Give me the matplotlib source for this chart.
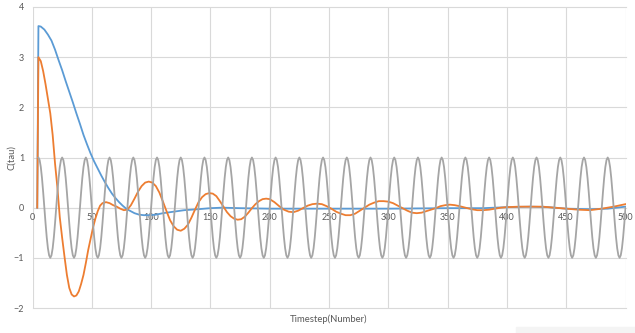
import numpy as np
import matplotlib
matplotlib.use("Agg")
import matplotlib.pyplot as plt
from matplotlib.patches import Rectangle

# ---- data ----
blue_x = [4, 5, 7, 10, 13, 16, 19, 22, 25, 28, 31, 34, 37, 40, 43, 46, 49, 52, 55, 58,
          61, 64, 67, 70, 73, 76, 79, 82, 86, 90, 94, 98, 104, 110, 116, 122, 128, 134,
          140, 150, 160, 175, 200, 250, 300, 350, 380, 400, 420, 435, 450, 470, 485, 500]
blue_y = [0.0, 3.62, 3.61, 3.55, 3.45, 3.33, 3.15, 2.94, 2.74, 2.52, 2.31, 2.10, 1.88, 1.67,
          1.45, 1.26, 1.08, 0.92, 0.78, 0.64, 0.51, 0.39, 0.28, 0.19, 0.11, 0.04, -0.02,
          -0.06, -0.11, -0.14, -0.15, -0.15, -0.14, -0.11, -0.09, -0.07, -0.05, -0.04,
          -0.03, -0.01, 0.0, -0.01, -0.02, -0.02, -0.02, -0.01, -0.01, 0.01, 0.02, 0.01,
          -0.02, -0.03, -0.02, 0.02]

orange_x = [4, 5, 7, 9, 11, 13, 15, 17, 19, 21, 23, 25, 27, 29, 31, 33, 35, 37, 39, 41,
            43, 45, 47, 49, 51, 53, 55, 57, 59, 62, 65, 68, 71, 74, 77, 80, 83, 86, 89,
            92, 95, 98, 101, 104, 107, 110, 113, 116, 119, 122, 125, 128, 131, 134, 137,
            140, 143, 146, 149, 152, 155, 158, 161, 164, 167, 170, 173, 176, 179, 182,
            185, 188, 191, 194, 197, 200, 204, 208, 212, 216, 220, 224, 228, 232, 236,
            240, 244, 248, 252, 256, 260, 264, 268, 272, 276, 280, 284, 288, 292, 296,
            300, 304, 308, 312, 316, 320, 324, 328, 332, 336, 340, 344, 348, 352, 356,
            360, 365, 370, 375, 380, 385, 390, 395, 400, 410, 420, 430, 440, 450, 460,
            470, 480, 490, 500]
orange_y = [0.0, 3.0, 2.92, 2.72, 2.46, 2.17, 1.88, 1.45, 0.88, 0.40, -0.19, -0.60, -0.98,
            -1.34, -1.60, -1.73, -1.77, -1.75, -1.67, -1.52, -1.34, -1.10, -0.84, -0.62,
            -0.40, -0.22, -0.07, 0.04, 0.09, 0.11, 0.09, 0.05, 0.02, -0.02, -0.05, -0.04,
            0.05, 0.18, 0.32, 0.43, 0.50, 0.52, 0.50, 0.43, 0.30, 0.12, -0.07, -0.25,
            -0.37, -0.44, -0.46, -0.42, -0.34, -0.20, -0.04, 0.11, 0.21, 0.27, 0.29, 0.28,
            0.23, 0.13, 0.02, -0.09, -0.17, -0.22, -0.24, -0.23, -0.18, -0.10, -0.01,
            0.07, 0.13, 0.17, 0.18, 0.17, 0.11, 0.03, -0.04, -0.08, -0.09, -0.06, -0.01,
            0.04, 0.07, 0.08, 0.07, 0.03, -0.02, -0.08, -0.12, -0.15, -0.15, -0.12, -0.06,
            0.00, 0.06, 0.10, 0.13, 0.13, 0.12, 0.09, 0.04, -0.01, -0.06, -0.10, -0.11,
            -0.10, -0.07, -0.04, -0.01, 0.03, 0.05, 0.06, 0.05, 0.03, 0.0, -0.03, -0.05,
            -0.05, -0.04, -0.02, 0.0, 0.01, 0.02, 0.02, 0.02, 0.0, -0.02, -0.04, -0.05,
            -0.02, 0.02, 0.07]

# gray periodic signal: one period (20 steps), repeated
gray_period = [1.0, 0.95, 0.81, 0.59, 0.31, 0.0, -0.31, -0.59, -0.81, -0.95,
               -1.0, -0.95, -0.81, -0.59, -0.31, 0.0, 0.31, 0.59, 0.81, 0.95]
gray_x = np.arange(5, 501)
gray_y = (gray_period * 25)[:len(gray_x)]

x_ticks = [0, 50, 100, 150, 200, 250, 300, 350, 400, 450, 500]
y_ticks = [-2, -1, 0, 1, 2, 3, 4]
x_label = "Timestep(Number)"
y_label = "C(tau)"

# ---- figure ----
W, H = 635, 333
fig = plt.figure(figsize=(W / 100, H / 100), dpi=100)
ax = fig.add_axes([32.5 / W, 1 - 308 / H, (625.5 - 32.5) / W, (308 - 7) / H])

font = "Lato"
tick_color = "#595959"

ax.plot(blue_x, blue_y, color="#5B9BD5", lw=1.3, zorder=3, solid_joinstyle="round")
ax.plot(orange_x, orange_y, color="#ED7D31", lw=1.3, zorder=4, solid_joinstyle="round")
ax.plot(gray_x, gray_y, color="#A5A5A5", lw=1.3, zorder=5, solid_joinstyle="round")

ax.set_xlim(0, 500)
ax.set_ylim(-2, 4)
ax.set_xticks(x_ticks)
ax.set_yticks(y_ticks)
ax.grid(True, color="#D9D9D9", lw=0.8, zorder=0)
for gl in ax.get_xgridlines() + ax.get_ygridlines():
    gl.set_clip_on(False)

for s in ["top", "right", "left"]:
    ax.spines[s].set_visible(False)
ax.spines["bottom"].set_position(("data", 0))
ax.spines["bottom"].set_color("#D9D9D9")
ax.spines["bottom"].set_linewidth(0.8)

ax.tick_params(axis="x", length=0, pad=3.5, labelsize=6.5, labelcolor=tick_color)
ax.tick_params(axis="y", length=0, pad=6, labelsize=6.5, labelcolor=tick_color)
for lab in ax.get_xticklabels() + ax.get_yticklabels():
    lab.set_family(font)

ax.set_xlabel(x_label, fontsize=6.8, color=tick_color, family=font)
ax.xaxis.set_label_coords(0.5, -0.023)
ax.set_ylabel(y_label, fontsize=6.8, color=tick_color, family=font)
ax.yaxis.set_label_coords(-0.027, 0.5)

fig.patches.append(Rectangle((516 / W, 0), (W - 516) / W, (333 - 326.5) / H,
                             transform=fig.transFigure, color="#F4F4F4", zorder=0))

fig.savefig("out.png", dpi=100)
